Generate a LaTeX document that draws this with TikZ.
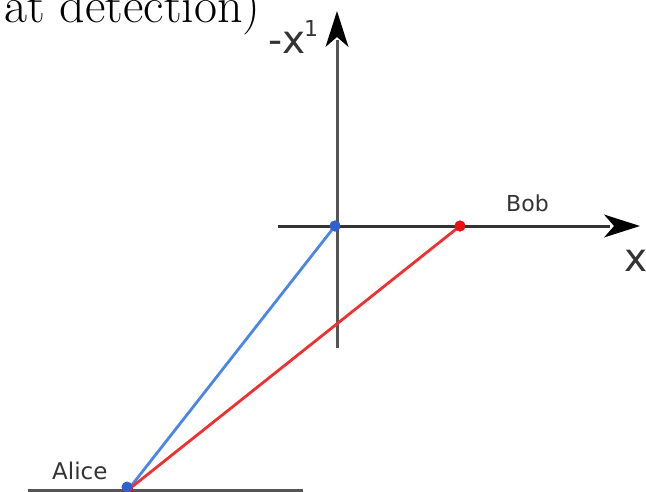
\documentclass[tikz,border=0pt]{standalone}
\usepackage{fontspec}
\newfontfamily\dejavu{DejaVu Sans}
\usetikzlibrary{arrows.meta}
\definecolor{axisgray}{HTML}{555555}
\definecolor{axisdark}{HTML}{333333}
\definecolor{lineblue}{HTML}{4A86E8}
\definecolor{linered}{HTML}{F03030}
\definecolor{dotblue}{HTML}{2F62D0}
\definecolor{dotred}{HTML}{E81010}
\tikzset{
  axis/.style={line width=3pt},
  conn/.style={line width=2.8pt},
  lbl/.style={inner sep=0pt, anchor=base west, text=axisdark},
  dot/.style={circle, inner sep=0pt, minimum size=11pt},
}
\begin{document}
\begin{tikzpicture}[x=1pt,y=-1pt]
\useasboundingbox (0,0) rectangle (646,491);
% title fragment
\node[inner sep=0pt, anchor=base west] (title) at (4,22) {\fontsize{50}{56}\selectfont at detection)};
% points
\coordinate (vbot) at (337,348);
\coordinate (vtop) at (337,11);
\coordinate (hleft) at (278,226);
\coordinate (hright) at (640,226);
\coordinate (gl) at (28,490);
\coordinate (gr) at (303,490);
\node[dot, fill=dotblue] (o) at (335,226) {};
\node[dot, fill=dotred] (b) at (460,226) {};
\node[dot, fill=dotred] (a) at (128,490) {};
% axes
\draw[axis, axisgray] (vbot) -- (337,40);
\fill[black] (vtop) -- ++(-11.5,36) -- ++(11.5,-10) -- ++(11.5,10) -- cycle;
\draw[axis, axisdark] (hleft) -- (610,226);
\fill[black] (hright) -- ++(-36,-11.5) -- ++(10,11.5) -- ++(-10,11.5) -- cycle;
\draw[axis, axisgray] (gl) -- (gr);
% lines
\draw[conn, lineblue] (a.center) -- (o.center);
\draw[conn, linered] (a.center) -- (b.center);
\node[dot, fill=dotblue] at (o) {};
\node[dot, fill=dotred] at (b) {};
\node[dot, fill=dotred] at (a) {};
\node[dot, fill=dotblue] at (127,487) {};
% labels
\node[lbl] (xlab) at (268,53) {\dejavu\fontsize{39}{44}\selectfont -x};
\node[lbl] (sup) at (304,36) {\dejavu\fontsize{22}{26}\selectfont 1};
\node[lbl] (xr) at (624,271) {\dejavu\fontsize{39}{44}\selectfont x};
\node[lbl] (bob) at (506,211) {\dejavu\fontsize{22}{26}\selectfont Bob};
\node[lbl] (alice) at (52,479) {\dejavu\fontsize{23}{26}\selectfont Alice};
\end{tikzpicture}
\end{document}
